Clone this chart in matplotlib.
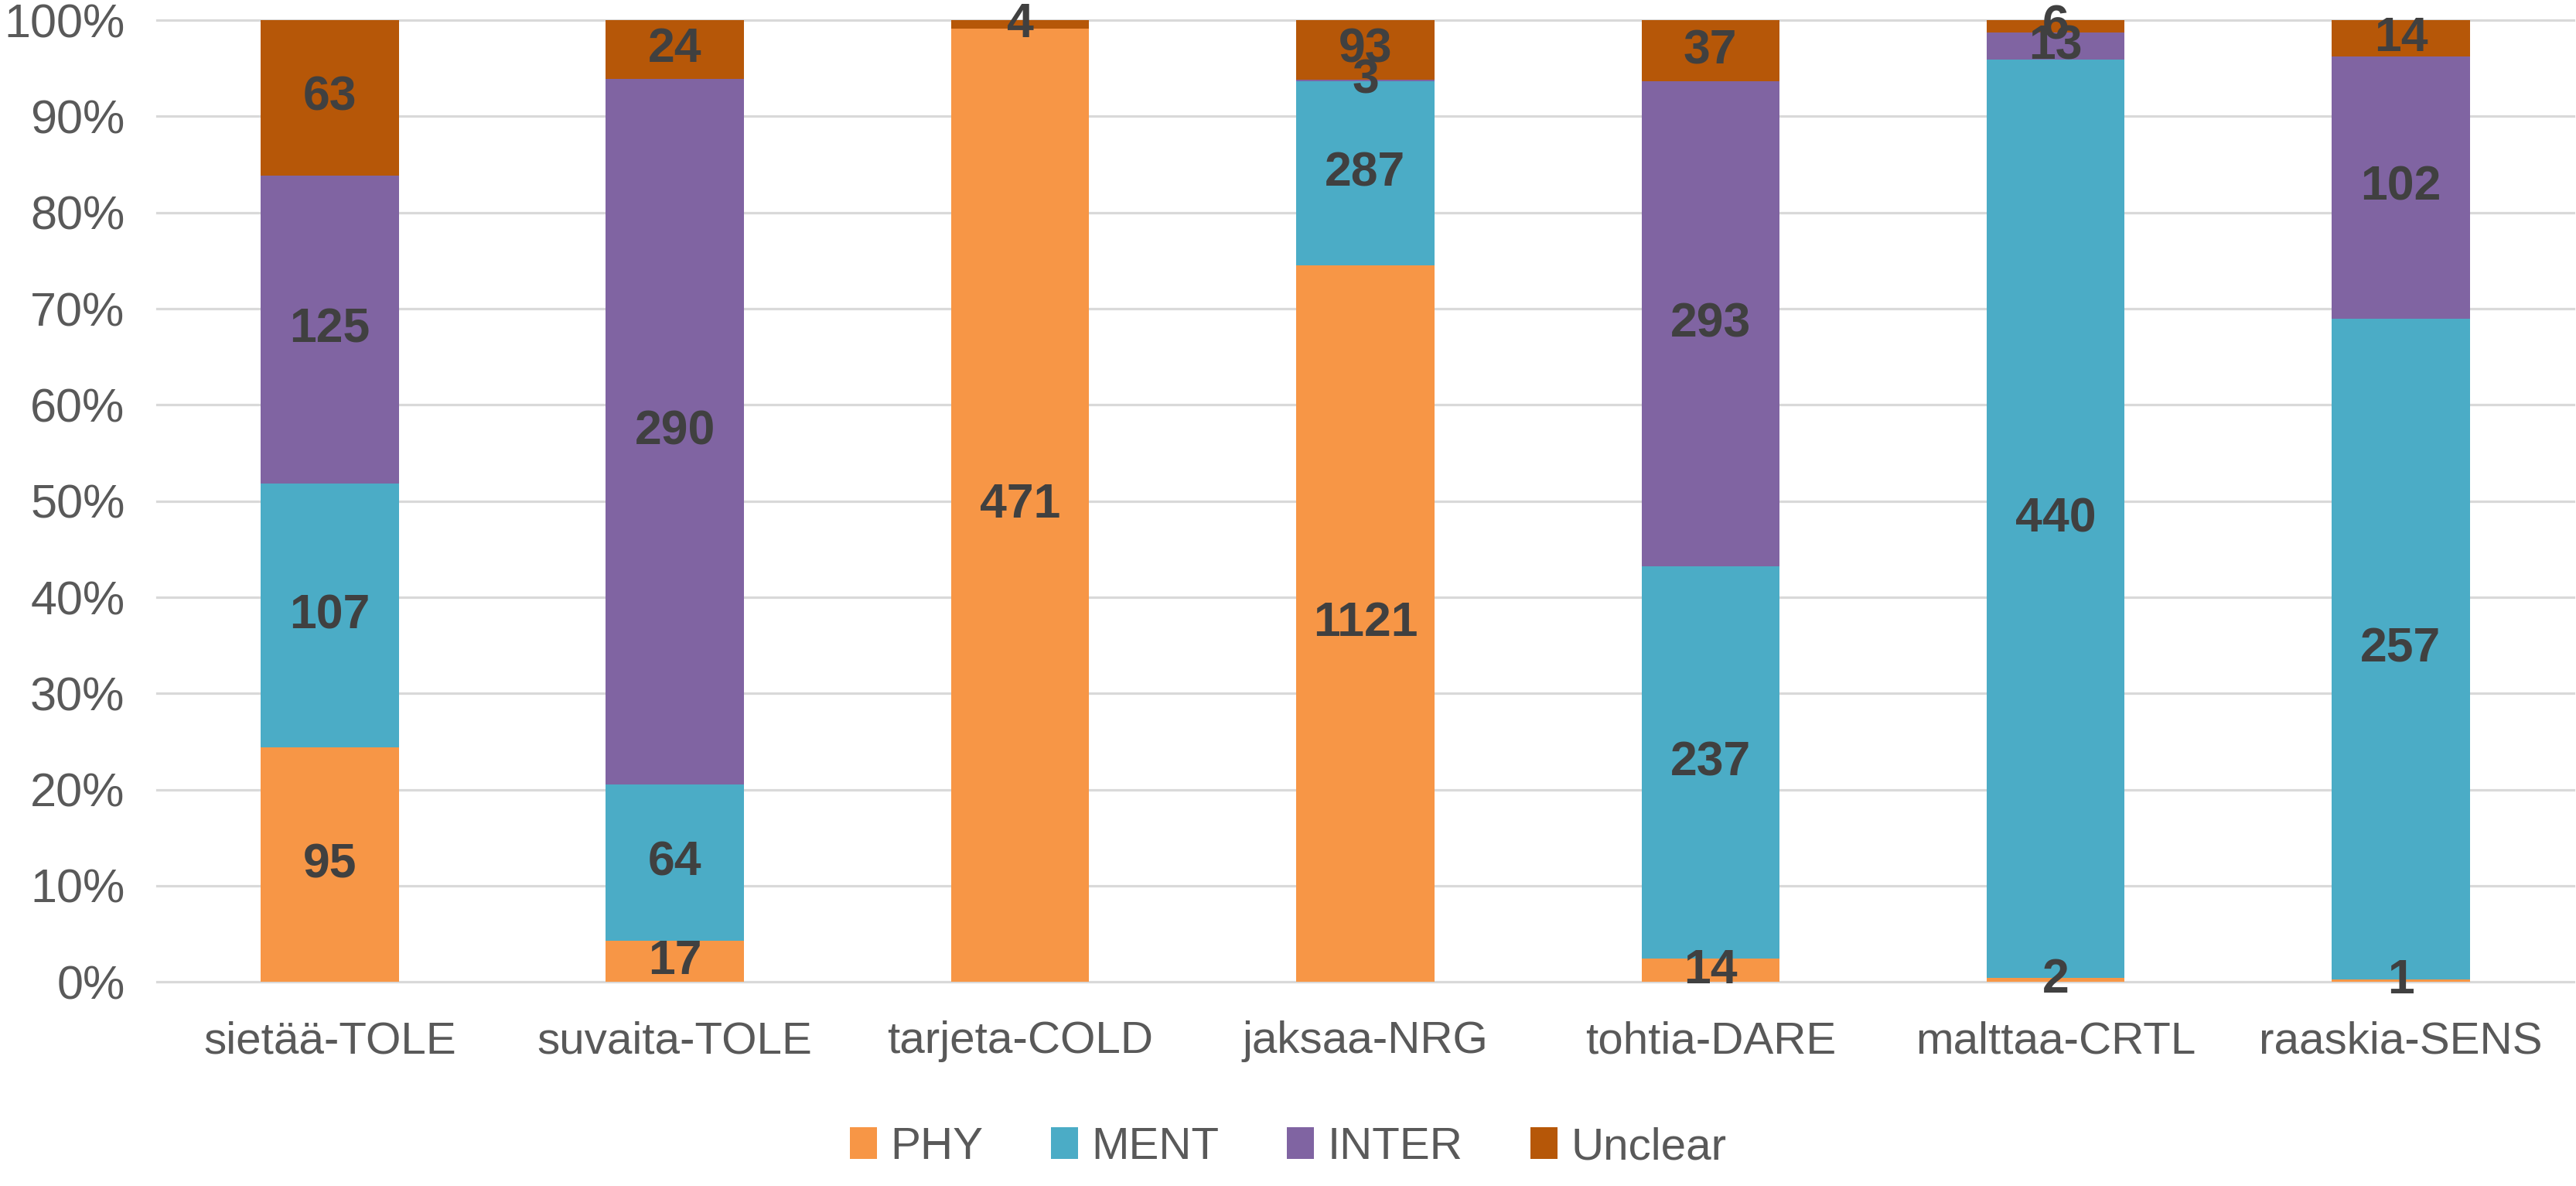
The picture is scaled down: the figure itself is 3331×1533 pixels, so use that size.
import matplotlib
matplotlib.use("Agg")
import matplotlib.pyplot as plt
import numpy as np

plt.rcParams['font.family'] = ['Liberation Sans', 'DejaVu Sans']

categories = ["sietää-TOLE", "suvaita-TOLE", "tarjeta-COLD", "jaksaa-NRG",
              "tohtia-DARE", "malttaa-CRTL", "raaskia-SENS"]
phy = [95, 17, 471, 1121, 14, 2, 1]
ment = [107, 64, 0, 287, 237, 440, 257]
inter = [125, 290, 0, 3, 293, 13, 102]
unclear = [63, 24, 4, 93, 37, 6, 14]

series = [("PHY", phy, "#F79646"),
          ("MENT", ment, "#4BACC6"),
          ("INTER", inter, "#8064A2"),
          ("Unclear", unclear, "#B65708")]

totals = np.array(phy) + np.array(ment) + np.array(inter) + np.array(unclear)
x = np.arange(len(categories))

fig = plt.figure(figsize=(33.31, 15.33), dpi=100)
ax = fig.add_axes([0.061, 0.172, 0.938, 0.811])

bottom = np.zeros(len(categories))
for name, vals, color in series:
    share = np.array(vals) / totals
    bars = ax.bar(x, share, width=0.4, bottom=bottom, color=color, label=name)
    ax.bar_label(bars, labels=[str(v) if v else "" for v in vals],
                 label_type="center", fontsize=45, fontweight="bold",
                 color="#404040")
    bottom += share

ax.set_xlim(-0.5, len(categories) - 0.5)
ax.set_ylim(0, 1)
yt = np.arange(0, 1.01, 0.1)
ax.set_yticks(yt)
ax.set_yticklabels([f"{int(round(t * 100))}%" for t in yt])
ax.set_xticks(x)
ax.set_xticklabels(categories)
ax.tick_params(axis="x", length=0, labelsize=42, labelcolor="#595959", pad=36)
ax.tick_params(axis="y", length=0, labelsize=44, labelcolor="#595959", pad=30)

ax.set_axisbelow(True)
ax.grid(axis="y", color="#D9D9D9", linewidth=2.3)
for gl in ax.get_ygridlines():
    gl.set_clip_on(False)
for s in ax.spines.values():
    s.set_visible(False)

fig.legend(loc="lower center", bbox_to_anchor=(0.5, -0.008), ncol=4, frameon=False,
           fontsize=42, handlelength=0.6, handleheight=0.7, handletextpad=0.3,
           columnspacing=1.5, labelcolor="#595959", borderaxespad=0.2)

fig.savefig("out.png", dpi=100)
